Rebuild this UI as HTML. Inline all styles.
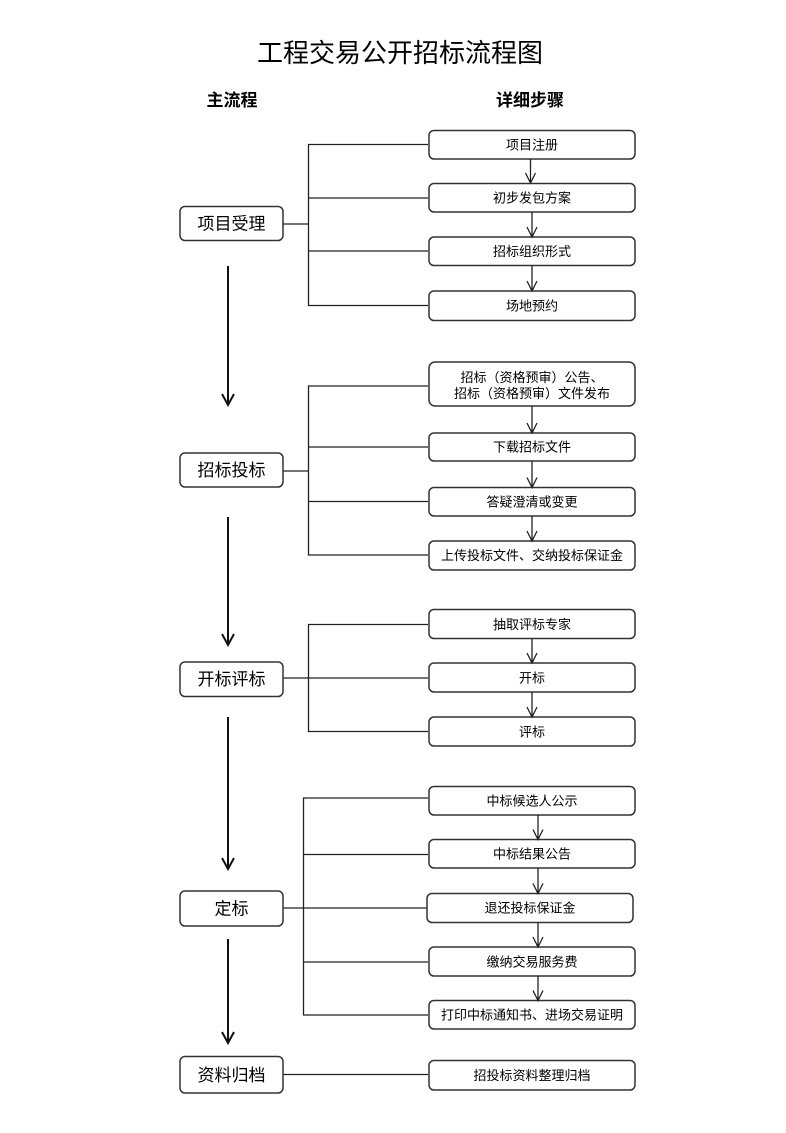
<!DOCTYPE html>
<html><head><meta charset="utf-8">
<style>
html,body{margin:0;padding:0;background:#fff;}
svg{display:block;}
text{font-family:"Liberation Sans","Noto Sans CJK SC",sans-serif;fill:#000;}
.bx{fill:#fff;stroke:#333;stroke-width:1.5;}
.ln{stroke:#222;stroke-width:1.3;fill:none;}
.ma{stroke:#111;stroke-width:2;fill:none;}
.t13{font-size:13px;}
.t17{font-size:17px;}
</style></head>
<body>
<svg width="786" height="1133" viewBox="0 0 786 1133" xmlns="http://www.w3.org/2000/svg">
<text x="400" y="62" font-size="26" text-anchor="middle">工程交易公开招标流程图</text>
<text x="232" y="106" font-size="17" font-weight="bold" text-anchor="middle">主流程</text>
<text x="530" y="106" font-size="17" font-weight="bold" text-anchor="middle">详细步骤</text>

<!-- Section 1 -->
<path class="ln" d="M428 144.5H308.5V305.5H428 M308.5 198H428 M308.5 251H428 M283 224H308.5"/>
<rect class="bx" x="180" y="206.5" width="103" height="34" rx="5"/>
<text class="t17" x="231.5" y="229.5" text-anchor="middle">项目受理</text>
<rect class="bx" x="429" y="130.5" width="206" height="28.5" rx="5"/>
<text class="t13" x="532" y="149.5" text-anchor="middle">项目注册</text>
<rect class="bx" x="429" y="183.5" width="206" height="28.5" rx="5"/>
<text class="t13" x="532" y="202.5" text-anchor="middle">初步发包方案</text>
<rect class="bx" x="429" y="237" width="206" height="28.5" rx="5"/>
<text class="t13" x="532" y="256" text-anchor="middle">招标组织形式</text>
<rect class="bx" x="429" y="291" width="206" height="29.5" rx="5"/>
<text class="t13" x="532" y="310.5" text-anchor="middle">场地预约</text>
<path class="ln" d="M530.5 159V183 M525.5 173L530.5 183L535.5 173"/>
<path class="ln" d="M532 212V237 M527 227L532 237L537 227"/>
<path class="ln" d="M532 265.5V291 M527 281L532 291L537 281"/>

<path class="ma" d="M228 266V405 M222 394L228 405L234 394"/>

<!-- Section 2 -->
<path class="ln" d="M428 386H308.5V555H428 M308.5 447H428 M308.5 501.5H428 M283 471H308.5"/>
<rect class="bx" x="180" y="453" width="103" height="34" rx="5"/>
<text class="t17" x="231.5" y="476" text-anchor="middle">招标投标</text>
<rect class="bx" x="429" y="362" width="206" height="44" rx="6"/>
<text class="t13" x="532" y="382" text-anchor="middle">招标（资格预审）公告、</text>
<text class="t13" x="532" y="398" text-anchor="middle">招标（资格预审）文件发布</text>
<rect class="bx" x="429" y="433" width="206" height="28" rx="5"/>
<text class="t13" x="532" y="451.5" text-anchor="middle">下载招标文件</text>
<rect class="bx" x="429" y="487.5" width="206" height="28.5" rx="5"/>
<text class="t13" x="532" y="506.5" text-anchor="middle">答疑澄清或变更</text>
<rect class="bx" x="429" y="541" width="206" height="29" rx="5"/>
<text class="t13" x="532" y="560" text-anchor="middle">上传投标文件、交纳投标保证金</text>
<path class="ln" d="M532 406V433 M527 423L532 433L537 423"/>
<path class="ln" d="M532 461V487.5 M527 477.5L532 487.5L537 477.5"/>
<path class="ln" d="M532 516V541 M527 531L532 541L537 531"/>

<path class="ma" d="M228 517V645 M222 634L228 645L234 634"/>

<!-- Section 3 -->
<path class="ln" d="M428 624.5H308.5V731.5H428 M283 678H428"/>
<rect class="bx" x="180" y="662" width="103" height="34.5" rx="5"/>
<text class="t17" x="231.5" y="685" text-anchor="middle">开标评标</text>
<rect class="bx" x="429" y="609.5" width="206" height="29" rx="5"/>
<text class="t13" x="532" y="629" text-anchor="middle">抽取评标专家</text>
<rect class="bx" x="429" y="663" width="206" height="29" rx="5"/>
<text class="t13" x="532" y="682.5" text-anchor="middle">开标</text>
<rect class="bx" x="429" y="717" width="206" height="29" rx="5"/>
<text class="t13" x="532" y="736.5" text-anchor="middle">评标</text>
<path class="ln" d="M532 638.5V663 M527 653L532 663L537 653"/>
<path class="ln" d="M532 692V717 M527 707L532 717L537 707"/>

<path class="ma" d="M228 717V869 M222 858L228 869L234 858"/>

<!-- Section 4 -->
<path class="ln" d="M428 798H303.5V1015H428 M303.5 854.5H428 M303.5 962H428 M283 908H427"/>
<rect class="bx" x="180" y="891" width="103" height="35" rx="5"/>
<text class="t17" x="231.5" y="914.5" text-anchor="middle">定标</text>
<rect class="bx" x="429" y="786.5" width="206" height="28.5" rx="5"/>
<text class="t13" x="532" y="805.5" text-anchor="middle">中标候选人公示</text>
<rect class="bx" x="429" y="839.5" width="206" height="28.5" rx="5"/>
<text class="t13" x="532" y="858.5" text-anchor="middle">中标结果公告</text>
<rect class="bx" x="427" y="893.5" width="206" height="29" rx="5"/>
<text class="t13" x="530" y="912.5" text-anchor="middle">退还投标保证金</text>
<rect class="bx" x="429" y="947" width="206" height="29" rx="5"/>
<text class="t13" x="532" y="966.5" text-anchor="middle">缴纳交易服务费</text>
<rect class="bx" x="429" y="1000.5" width="206" height="28.5" rx="5"/>
<text class="t13" x="532" y="1019.5" text-anchor="middle">打印中标通知书、进场交易证明</text>
<path class="ln" d="M538 815V839.5 M533 829.5L538 839.5L543 829.5"/>
<path class="ln" d="M538 868V893.5 M533 883.5L538 893.5L543 883.5"/>
<path class="ln" d="M538 922.5V947 M533 937L538 947L543 937"/>
<path class="ln" d="M538 976V1000.5 M533 990.5L538 1000.5L543 990.5"/>

<path class="ma" d="M228 939V1043 M222 1032L228 1043L234 1032"/>

<!-- Section 5 -->
<path class="ln" d="M283 1074.5H428"/>
<rect class="bx" x="180" y="1056.5" width="103" height="36.5" rx="5"/>
<text class="t17" x="231.5" y="1081" text-anchor="middle">资料归档</text>
<rect class="bx" x="429" y="1060.5" width="206" height="29.5" rx="5"/>
<text class="t13" x="532" y="1080" text-anchor="middle">招投标资料整理归档</text>
</svg>
</body></html>
